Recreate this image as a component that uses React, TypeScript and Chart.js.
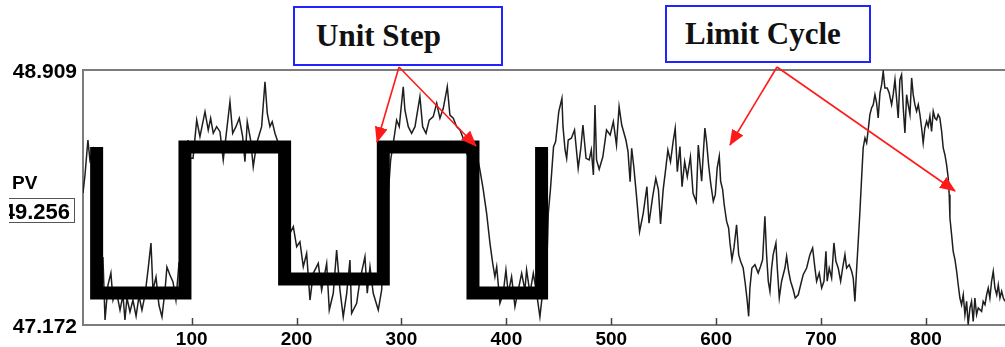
import React, { useEffect, useRef } from 'react';
import { Chart, registerables } from 'chart.js';

Chart.register(...registerables);

// ---- Data ----
const X_MIN = -3.6;
const X_MAX = 875.4;
const Y_MIN = 47.172;
const Y_MAX = 48.909;

const xTickValues = [100, 200, 300, 400, 500, 600, 700, 800];
const yTickValues = [47.172, 48.909];

// Unit step (setpoint) corners
const stepX = [9.4, 9.4, 93.6, 93.6, 188.6, 188.6, 282.7, 282.7, 368.2, 368.2, 433.6, 433.6];
const stepY = [48.384, 47.39, 47.39, 48.384, 48.384, 47.485, 47.485, 48.384, 48.384, 47.39, 47.39, 48.384];

// Process variable (PV) samples: [x, value]
const pvPoints: [number, number][] = [
  [-3.6, 48.071], [-1.7, 48.194], [1.1, 48.432], [3, 48.296], [6, 48.364], [9, 48.023], [11, 47.683], [12.6, 47.513],
  [15.4, 47.635], [17.4, 47.206], [20.2, 47.444], [23, 47.526], [25, 47.342], [28, 47.41], [31.7, 47.274], [34.5, 47.376],
  [36.4, 47.206], [38.3, 47.356], [41.2, 47.261], [44, 47.342], [47, 47.233], [49.8, 47.369], [52.6, 47.274], [55.5, 47.376],
  [58.4, 47.547], [61.2, 47.73], [63.1, 47.41], [66, 47.499], [68.8, 47.308], [71.7, 47.227], [74.6, 47.41], [76.4, 47.567],
  [79.3, 47.513], [82.2, 47.465], [85, 47.342], [88, 47.601], [89.8, 47.41], [92.7, 47.819], [94.6, 48.16], [96.4, 48.432],
  [98.4, 48.31],
  [101.3, 48.307], [104.8, 48.568], [107.9, 48.455], [112.7, 48.625], [115.8, 48.5], [118.1, 48.58], [120.6, 48.478],
  [123.8, 48.523], [127, 48.489], [130.1, 48.296], [133.4, 48.5], [136.5, 48.693], [139.1, 48.478], [142.2, 48.523],
  [145.4, 48.58], [148.6, 48.455], [150.8, 48.284], [153, 48.557], [156.2, 48.432], [158.7, 48.25], [162, 48.41],
  [166.7, 48.523], [169.9, 48.829], [172.1, 48.614], [174.6, 48.523], [176.8, 48.557], [179.4, 48.478], [182.6, 48.41],
  [185.8, 48.342], [189, 48.114], [190.6, 47.91], [193.7, 47.797], [196.9, 47.842], [200.1, 47.705], [203.2, 47.739],
  [206.4, 47.569], [209.6, 47.66], [212.8, 47.342], [215.9, 47.524], [220.7, 47.592], [223.9, 47.41], [228.7, 47.592],
  [231.2, 47.274], [235, 47.388], [238.2, 47.683], [241.4, 47.41], [244.5, 47.228], [247.8, 47.388], [250.9, 47.615],
  [252.5, 47.252], [257.3, 47.32], [260.4, 47.478], [265.2, 47.637], [267.4, 47.388], [270, 47.569], [273.1, 47.388],
  [277.9, 47.274], [281.1, 47.41], [284.3, 47.842], [287.4, 48.069], [289.7, 48.296], [292.2, 48.41], [295.4, 48.568],
  [297.9, 48.523], [301.7, 48.795], [303.3, 48.637], [306.5, 48.523], [309.7, 48.478], [312.9, 48.523], [317.6, 48.727],
  [320.2, 48.523], [323.4, 48.478], [326.5, 48.568], [330.3, 48.591], [333.6, 48.682], [336.7, 48.58], [339.9, 48.648],
  [343.7, 48.795], [346.2, 48.602], [349.4, 48.58], [352.6, 48.523], [355.8, 48.5], [358.9, 48.444], [362.2, 48.342],
  [365.3, 48.296], [368.5, 48.387], [371.7, 48.342], [374.8, 48.228], [378, 48.092], [381.2, 47.933], [384.4, 47.728],
  [387, 47.592], [389.1, 47.501], [390.8, 47.569], [393.9, 47.32], [397, 47.388], [399.6, 47.547], [401.8, 47.388],
  [405, 47.501], [408.2, 47.297], [411.3, 47.41], [414.6, 47.524], [417.7, 47.41], [419.3, 47.547], [422.5, 47.388],
  [425.7, 47.524], [428.9, 47.388], [432, 47.228], [435.2, 47.433], [438.4, 47.524],
  [440, 47.933], [442, 48.092], [445, 48.387], [447, 48.421], [450, 48.625], [453, 48.716], [454, 48.523], [456, 48.364],
  [457.5, 48.307], [459, 48.432], [462, 48.444], [465, 48.5], [468.5, 48.239], [471, 48.376], [473, 48.534], [476, 48.307],
  [479, 48.296], [481, 48.364], [483, 48.194], [484.5, 48.671], [486, 48.296], [488.5, 48.233], [492, 48.318], [495.5, 48.5],
  [499, 48.466], [502, 48.557], [505, 48.398], [507.5, 48.659], [510, 48.534], [514, 48.432], [516, 48.353], [518, 48.148],
  [519.5, 48.376], [521.5, 48.25], [524, 48.058], [527, 47.808], [530.5, 47.933], [534, 48.114], [536, 47.865],
  [539.5, 48.046], [542.5, 48.171], [545, 48.092], [547, 47.86], [549.5, 48.092], [552, 48.239], [554, 48.364],
  [556.5, 48.284], [559, 48.421], [561, 48.512], [563, 48.216], [565.5, 48.387], [567.5, 48.114], [570, 48.284],
  [572.5, 48.182], [575.5, 48.318], [578, 48.069], [581, 48.012], [583, 48.398],
  [586.2, 48.151], [587.7, 48.332], [589.3, 48.514], [591, 48.412], [592.8, 48.264], [594.8, 48.139], [597.3, 48.015],
  [599.2, 48.06], [601, 48.241], [603, 48.321], [604.3, 48.151], [606.2, 48.094], [607.7, 47.991], [610, 47.878],
  [611.9, 47.833], [613.2, 47.731], [615.1, 47.617], [617, 47.697], [619.5, 47.855], [621.5, 47.651], [623.3, 47.606],
  [625.8, 47.56], [627.7, 47.458], [629.7, 47.333], [631, 47.231], [632.2, 47.424], [634.1, 47.56], [637, 47.583],
  [640.1, 47.526], [642.4, 47.572], [644.3, 47.617], [646.5, 47.912], [648.1, 47.651], [649.7, 47.47], [651.3, 47.401],
  [652.9, 47.56], [654.4, 47.651], [657, 47.731], [658.3, 47.56], [660.2, 47.356], [662.4, 47.47], [665.6, 47.56],
  [667.2, 47.64], [669.1, 47.538], [671, 47.47], [673.5, 47.412], [675.4, 47.356], [678.3, 47.378], [680.6, 47.446],
  [683, 47.515], [686.3, 47.56], [689.4, 47.651], [692, 47.697], [694.2, 47.56], [695.8, 47.47], [698.3, 47.526],
  [700.6, 47.424], [702.8, 47.47], [704.7, 47.674], [705.9, 47.47], [707.8, 47.56], [710.1, 47.492], [712.3, 47.731],
  [714.2, 47.606], [716.4, 47.56], [718.7, 47.47], [720.6, 47.56], [722.8, 47.651], [724.4, 47.56], [726.9, 47.583],
  [729.2, 47.538], [730.7, 47.492], [732.3, 47.333],
  [734, 47.56], [735.5, 47.742], [737.1, 47.947], [738.7, 48.173], [740.2, 48.378], [741.9, 48.446], [743.5, 48.412],
  [745, 48.502], [746.6, 48.605], [748.2, 48.65], [749.8, 48.673], [751.4, 48.741], [753, 48.684], [754.5, 48.582],
  [756.2, 48.752], [757.8, 48.809], [759.3, 48.9], [760.9, 48.786], [763.1, 48.786], [765, 48.752], [767.3, 48.673],
  [768.8, 48.741], [770.5, 48.843], [772, 48.718], [773.6, 48.582], [775.2, 48.843], [776.8, 48.877], [778.4, 48.65],
  [780, 48.48], [781.6, 48.741], [783.1, 48.673], [784.8, 48.605], [786.4, 48.855], [787.9, 48.741], [789.5, 48.673],
  [791.1, 48.628], [792.7, 48.673], [794.3, 48.605], [795.9, 48.514], [797.4, 48.412], [799, 48.514], [800.7, 48.56],
  [802.2, 48.525], [803.8, 48.594], [805.4, 48.491], [807, 48.628], [808.6, 48.582], [810.2, 48.57], [811.7, 48.605],
  [813.3, 48.582], [815, 48.491], [816.5, 48.378], [818.1, 48.332], [819.7, 48.264], [821.3, 48.173], [822.2, 48.06],
  [822.9, 47.901], [824.5, 47.787], [826, 47.674], [827.7, 47.617], [829.3, 47.538], [830.8, 47.446], [832.4, 47.356],
  [834, 47.31], [835.6, 47.378], [837.2, 47.242], [838.8, 47.333], [840.3, 47.174], [842, 47.288], [843.5, 47.333],
  [845.1, 47.197], [846.7, 47.356], [848.3, 47.242], [849.9, 47.288], [853.1, 47.265], [854.6, 47.333], [856.3, 47.31],
  [857.9, 47.378], [859.4, 47.424], [861, 47.356], [862.6, 47.47], [864.2, 47.538], [865.8, 47.424], [867.5, 47.378],
  [869, 47.446], [870.6, 47.356], [872.2, 47.401], [873.8, 47.356], [875.4, 47.333],
];

const pvLabel = 'PV';
const pvValueText = '49.256';
const annotationUnitStep = 'Unit Step';
const annotationLimitCycle = 'Limit Cycle';

const LABEL_FONT = "'Liberation Sans', Arial, sans-serif";
const SERIF_FONT = "'Liberation Serif', 'Times New Roman', serif";

const framePlugin = {
  id: 'frame',
  beforeDatasetsDraw(chart: any) {
    const { ctx, chartArea: a, scales } = chart;
    ctx.save();
    ctx.strokeStyle = '#7c7c7c';
    ctx.lineWidth = 2;
    ctx.beginPath();
    ctx.moveTo(a.right + 4, a.top);
    ctx.lineTo(a.left, a.top);
    ctx.lineTo(a.left, a.bottom);
    ctx.lineTo(a.right + 4, a.bottom);
    ctx.stroke();
    ctx.strokeStyle = '#444';
    ctx.lineWidth = 1.5;
    ctx.beginPath();
    for (const v of xTickValues) {
      const px = Math.round(scales.x.getPixelForValue(v)) + 0.5;
      ctx.moveTo(px, a.bottom);
      ctx.lineTo(px, a.bottom - 7);
    }
    ctx.stroke();
    ctx.restore();
  },
};

export default function App() {
  const ref = useRef<HTMLCanvasElement>(null);

  useEffect(() => {
    document.body.style.margin = '0';
    const chart = new Chart(ref.current as HTMLCanvasElement, {
      type: 'line',
      data: {
        datasets: [
          {
            label: 'Unit step',
            data: stepX.map((x, i) => ({ x, y: stepY[i] })),
            borderColor: '#000',
            borderWidth: 13,
            borderJoinStyle: 'miter',
            borderCapStyle: 'butt',
            pointRadius: 0,
            tension: 0,
            fill: false,
            order: 0,
          },
          {
            label: 'PV',
            data: pvPoints.map(([x, y]) => ({ x, y })),
            borderColor: '#1e1e1e',
            borderWidth: 1.5,
            pointRadius: 0,
            tension: 0,
            fill: false,
            order: 1,
          },
        ],
      },
      options: {
        animation: false,
        responsive: false,
        devicePixelRatio: 1,
        layout: { padding: { top: 70, left: 0, right: 0, bottom: 0 } },
        plugins: { legend: { display: false }, tooltip: { enabled: false } },
        scales: {
          x: {
            type: 'linear',
            min: X_MIN,
            max: X_MAX,
            grid: { display: false, drawTicks: false, tickLength: 0 },
            border: { display: false },
            afterBuildTicks: (s: any) => {
              s.ticks = xTickValues.map((value) => ({ value }));
            },
            afterFit: (s: any) => {
              s.height = 22;
            },
            ticks: {
              color: '#000',
              padding: 3,
              maxRotation: 0,
              autoSkip: false,
              font: { family: LABEL_FONT, size: 19, weight: 'bold' },
              callback: (v: any) => String(v),
            },
          },
          y: {
            type: 'linear',
            min: Y_MIN,
            max: Y_MAX,
            grid: { display: false, drawTicks: false, tickLength: 0 },
            border: { display: false },
            afterBuildTicks: (s: any) => {
              s.ticks = yTickValues.map((value) => ({ value }));
            },
            afterFit: (s: any) => {
              s.width = 83;
            },
            ticks: {
              color: '#000',
              padding: 6,
              labelOffset: 2,
              font: { family: LABEL_FONT, size: 21, weight: 'bold' },
              callback: (v: any) => Number(v).toFixed(3),
            },
          },
        },
      },
      plugins: [framePlugin],
    } as any);
    return () => chart.destroy();
  }, []);

  const red = '#ff1a1a';
  const blue = '#2323ff';

  return (
    <div style={{ position: 'absolute', left: 0, top: 0, width: 1005, height: 347, background: '#fff', overflow: 'hidden' }}>
      <canvas ref={ref} width={1005} height={347} style={{ position: 'absolute', left: 0, top: 0, width: 1005, height: 347 }} />

      {/* PV label */}
      <div style={{ position: 'absolute', left: 12, top: 173, font: `bold 19px ${LABEL_FONT}`, lineHeight: '19px', color: '#000' }}>
        {pvLabel}
      </div>
      <div
        style={{
          position: 'absolute',
          left: 9,
          top: 198,
          width: 66,
          height: 25,
          boxSizing: 'border-box',
          borderTop: '1.5px solid #555',
          borderRight: '1.5px solid #555',
          borderBottom: '1.5px solid #555',
          overflow: 'hidden',
          background: '#fff',
        }}
      >
        <span
          style={{
            position: 'absolute',
            right: 4,
            top: 2,
            font: `bold 22px ${LABEL_FONT}`,
            lineHeight: '22px',
            whiteSpace: 'nowrap',
            color: '#000',
          }}
        >
          {pvValueText}
        </span>
      </div>

      {/* Annotation boxes */}
      <div
        style={{
          position: 'absolute',
          left: 293,
          top: 6,
          width: 210,
          height: 60,
          boxSizing: 'border-box',
          border: `2px solid ${blue}`,
          background: '#fff',
        }}
      >
        <span style={{ position: 'absolute', left: 21, top: 12, font: `bold 31px ${SERIF_FONT}`, lineHeight: '31px', color: '#111', whiteSpace: 'nowrap' }}>
          {annotationUnitStep}
        </span>
      </div>
      <div
        style={{
          position: 'absolute',
          left: 665,
          top: 5,
          width: 206,
          height: 58,
          boxSizing: 'border-box',
          border: `2px solid ${blue}`,
          background: '#fff',
        }}
      >
        <span style={{ position: 'absolute', left: 18, top: 11, font: `bold 31px ${SERIF_FONT}`, lineHeight: '31px', color: '#111', whiteSpace: 'nowrap' }}>
          {annotationLimitCycle}
        </span>
      </div>

      {/* Arrows */}
      <svg width={1005} height={347} style={{ position: 'absolute', left: 0, top: 0, pointerEvents: 'none' }}>
        <defs>
          <marker id="ah" markerWidth="16" markerHeight="13" refX="15" refY="6.5" orient="auto" markerUnits="userSpaceOnUse">
            <path d="M0,0 L16,6.5 L0,13 z" fill={red} />
          </marker>
        </defs>
        <line x1={399} y1={67} x2={377} y2={142} stroke={red} strokeWidth={1.6} markerEnd="url(#ah)" />
        <line x1={399} y1={67} x2={476} y2={146} stroke={red} strokeWidth={1.6} markerEnd="url(#ah)" />
        <line x1={777} y1={67} x2={730} y2={145} stroke={red} strokeWidth={1.6} markerEnd="url(#ah)" />
        <line x1={777} y1={67} x2={955} y2={191} stroke={red} strokeWidth={1.6} markerEnd="url(#ah)" />
      </svg>
    </div>
  );
}
